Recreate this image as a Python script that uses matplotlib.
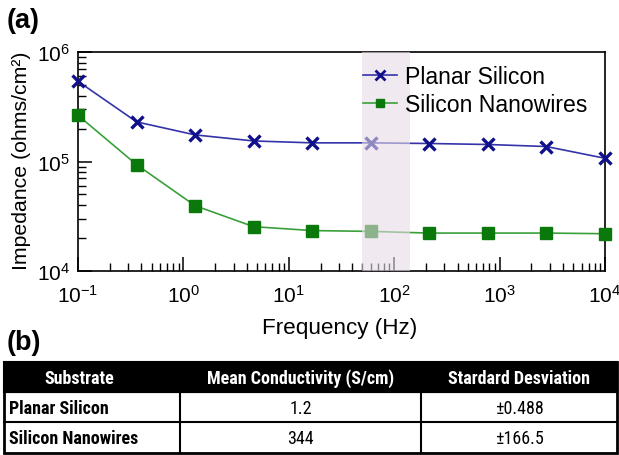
import matplotlib
matplotlib.use("Agg")
import matplotlib.pyplot as plt
from matplotlib.patches import Rectangle
from matplotlib.lines import Line2D

plt.rcParams['font.family'] = ['Liberation Sans', 'DejaVu Sans']
plt.rcParams['mathtext.fontset'] = 'custom'
plt.rcParams['mathtext.rm'] = 'Roboto Condensed'
plt.rcParams['mathtext.it'] = 'Roboto Condensed'

# ---- data ----
freq_hz = [0.1, 0.36, 1.29, 4.64, 16.7, 59.9, 215, 774, 2780, 10000]
planar_silicon = [5.4e5, 2.3e5, 1.75e5, 1.54e5, 1.48e5, 1.48e5, 1.46e5, 1.43e5, 1.37e5, 1.07e5]
silicon_nanowires = [2.64e5, 9.35e4, 3.95e4, 2.54e4, 2.34e4, 2.3e4, 2.22e4, 2.22e4, 2.22e4, 2.19e4]
series_names = ["Planar Silicon", "Silicon Nanowires"]
highlight_band = [50, 140]
xtick_vals = [0.1, 1, 10, 100, 1000, 10000]
xtick_labels = [r"$\mathregular{10^{-1}}$", r"$\mathregular{10^{0}}$", r"$\mathregular{10^{1}}$",
                r"$\mathregular{10^{2}}$", r"$\mathregular{10^{3}}$", r"$\mathregular{10^{4}}$"]
ytick_vals = [1e4, 1e5, 1e6]
ytick_labels = [r"$\mathregular{10^{4}}$", r"$\mathregular{10^{5}}$", r"$\mathregular{10^{6}}$"]

table_header = ["Substrate", "Mean Conductivity (S/cm)", "Stardard Desviation"]
table_substrates = ["Planar Silicon", "Silicon Nanowires"]
table_conductivity = ["1.2", "344"]
table_std = ["\u00b10.488", "\u00b1166.5"]

W, H = 619, 456
fig = plt.figure(figsize=(W / 100, H / 100), dpi=100)

def fx(px):
    return px / W

def fy(py):
    return 1 - py / H

ax = fig.add_axes([fx(78), fy(272), fx(605) - fx(78), fy(53) - fy(272)])
ax.set_xscale('log')
ax.set_yscale('log')
ax.set_xlim(0.1, 10000)
ax.set_ylim(1e4, 1e6)

blue_line = '#3434a8'
blue_mark = '#10108a'
green_line = '#3aa03a'
green_mark = '#0a780a'

ax.plot(freq_hz, planar_silicon, color=blue_line, lw=1.2, marker='x', ms=9, mew=2.4,
        mec=blue_mark, clip_on=False, zorder=3)
ax.plot(freq_hz, silicon_nanowires, color=green_line, lw=1.2, marker='s', ms=8.5,
        mfc=green_mark, mec=green_mark, clip_on=False, zorder=3)
ax.axvspan(highlight_band[0], highlight_band[1], color='#e6dbe6', alpha=0.6, lw=0, zorder=4)

ax.set_xticks(xtick_vals)
ax.set_xticklabels(xtick_labels, fontsize=15)
ax.set_yticks(ytick_vals)
ax.set_yticklabels(ytick_labels, fontsize=15)
ax.tick_params(which='major', direction='in', length=10, width=1.1)
ax.tick_params(axis='x', which='major', pad=9)
ax.tick_params(axis='y', which='major', pad=6)
ax.tick_params(which='minor', direction='in', length=6, width=1.0)
ax.tick_params(top=False, right=False, which='both')
for s in ax.spines.values():
    s.set_linewidth(1.2)

handles = [Line2D([], [], color=blue_line, lw=1.2, marker='x', ms=7, mew=2, mec=blue_mark),
           Line2D([], [], color=green_line, lw=1.2, marker='s', ms=6, mfc=green_mark, mec=green_mark)]
leg = fig.legend(handles, series_names, loc='upper left', frameon=False, fontsize=16.6,
                 handlelength=1.47, handletextpad=0.35, borderaxespad=0, borderpad=0,
                 labelspacing=0.2, bbox_to_anchor=(fx(363), fy(66)),
                 bbox_transform=fig.transFigure)

fig.text(fx(340), fy(329), "Frequency (Hz)", fontsize=16.2, ha='center', va='center')
fig.text(fx(22), fy(161), "Impedance (ohms/cm\u00b2)", fontsize=15.3, ha='center', va='center',
         rotation=90)
fig.text(fx(7), fy(21), "(a)", fontsize=19.5, fontweight='bold', ha='left', va='center')
fig.text(fx(7), fy(343), "(b)", fontsize=19.5, fontweight='bold', ha='left', va='center')

# ---- table ----
tfont = ['Roboto Condensed', 'Liberation Sans Narrow', 'DejaVu Sans Condensed', 'Liberation Sans']
col_edges = [4, 180, 421, 617]
row_edges = [363, 393, 423, 454]
fig.add_artist(Rectangle((fx(col_edges[0]), fy(row_edges[1])),
                         fx(col_edges[-1]) - fx(col_edges[0]), fy(row_edges[0]) - fy(row_edges[1]),
                         transform=fig.transFigure, facecolor='black', edgecolor='black', lw=1.5))
fig.add_artist(Rectangle((fx(col_edges[0]), fy(row_edges[-1])),
                         fx(col_edges[-1]) - fx(col_edges[0]), fy(row_edges[0]) - fy(row_edges[-1]),
                         transform=fig.transFigure, facecolor='none', edgecolor='black', lw=2))
for yy in row_edges[1:-1]:
    fig.add_artist(Line2D([fx(col_edges[0]), fx(col_edges[-1])], [fy(yy), fy(yy)],
                          transform=fig.transFigure, color='black', lw=1.5))
for xx in col_edges[1:-1]:
    fig.add_artist(Line2D([fx(xx), fx(xx)], [fy(row_edges[1]), fy(row_edges[-1])],
                          transform=fig.transFigure, color='black', lw=1.5))

def cell_center(c):
    return fx((col_edges[c] + col_edges[c + 1]) / 2)

def row_center(r):
    return fy((row_edges[r] + row_edges[r + 1]) / 2 + 1)

header_x = [fx(79), cell_center(1), cell_center(2)]
for c, txt in enumerate(table_header):
    fig.text(header_x[c], row_center(0), txt, color='white', fontsize=13, fontweight='bold',
             family=tfont, ha='center', va='center')
for r in range(2):
    fig.text(fx(col_edges[0] + 5), row_center(r + 1), table_substrates[r], fontsize=13,
             fontweight='bold', family=tfont, ha='left', va='center')
    fig.text(cell_center(1), row_center(r + 1), table_conductivity[r], fontsize=13,
             family=tfont, ha='center', va='center')
    fig.text(cell_center(2), row_center(r + 1), table_std[r], fontsize=13,
             family=tfont, ha='center', va='center')

fig.savefig("out.png", dpi=100)
